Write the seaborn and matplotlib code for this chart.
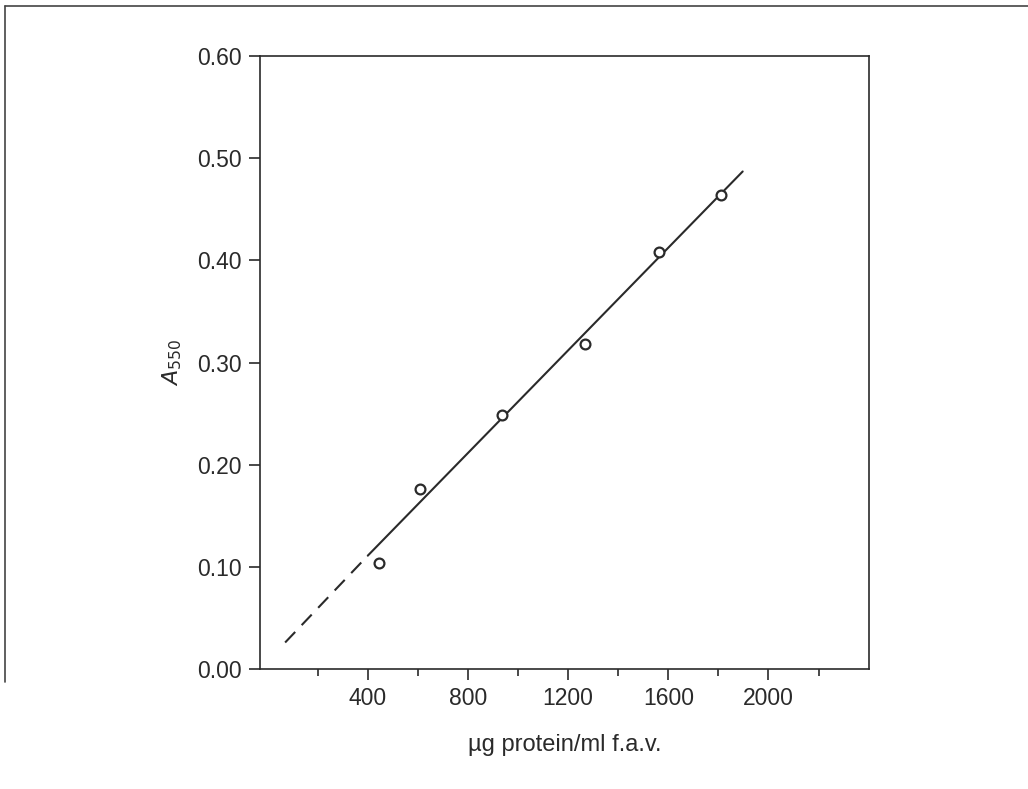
import matplotlib
matplotlib.use('Agg')
import matplotlib.pyplot as plt
from matplotlib.lines import Line2D
from matplotlib.ticker import MultipleLocator, FixedLocator
import seaborn as sns
import pandas as pd

# data
protein = [444, 607, 937, 1268, 1562, 1809]          # ug protein/ml f.a.v.
absorb = [0.104, 0.176, 0.249, 0.318, 0.408, 0.464]  # A550

# fitted standard line (solid part) and extrapolation (dashed part)
fit_x = [400, 1897]
fit_y = [0.111, 0.487]
extra_x = [70, 400]
extra_y = [0.026, 0.111]

sns.set_theme(style='ticks')
plt.rcParams['font.family'] = ['Liberation Sans', 'DejaVu Sans']

ink = '#2a2a2a'
fig = plt.figure(figsize=(10.28, 7.89), dpi=100)
ax = fig.add_axes([0.253, 0.152, 0.592, 0.777])

pts = pd.DataFrame({'x': protein, 'y': absorb})
sns.lineplot(x=fit_x, y=fit_y, ax=ax, color=ink, lw=1.5)
sns.lineplot(x=extra_x, y=extra_y, ax=ax, color=ink, lw=1.5, linestyle=(0, (7, 4.5)))
sns.scatterplot(data=pts, x='x', y='y', ax=ax, marker='o', s=50,
                facecolor='white', edgecolor=ink, linewidth=1.6, zorder=5)

ax.set_xlim(-30, 2400)
ax.set_ylim(0, 0.6)
ax.xaxis.set_major_locator(FixedLocator([400, 800, 1200, 1600, 2000]))
ax.xaxis.set_minor_locator(FixedLocator([200, 600, 1000, 1400, 1800, 2200]))
ax.yaxis.set_major_locator(MultipleLocator(0.1))
ax.yaxis.set_major_formatter(matplotlib.ticker.FormatStrFormatter('%.2f'))

for s in ax.spines.values():
    s.set_color(ink)
    s.set_linewidth(1.2)
ax.tick_params(axis='both', which='major', direction='out', length=8, width=1.2,
               color=ink, labelsize=16.5, labelcolor=ink, pad=5)
ax.tick_params(axis='x', which='minor', direction='out', length=5, width=1.2, color=ink)

ax.set_xlabel('\u00b5g protein/ml f.a.v.', fontsize=17, color=ink, labelpad=17)
ax.set_ylabel('$A_{550}$', fontsize=16, color=ink, labelpad=10)

# scan border lines
fig.add_artist(Line2D([0.005, 1.0], [0.993, 0.993], transform=fig.transFigure, color='#444', lw=1.2))
fig.add_artist(Line2D([0.005, 0.005], [0.993, 0.135], transform=fig.transFigure, color='#444', lw=1.2))

plt.savefig('out.png', dpi=100)
plt.close()
